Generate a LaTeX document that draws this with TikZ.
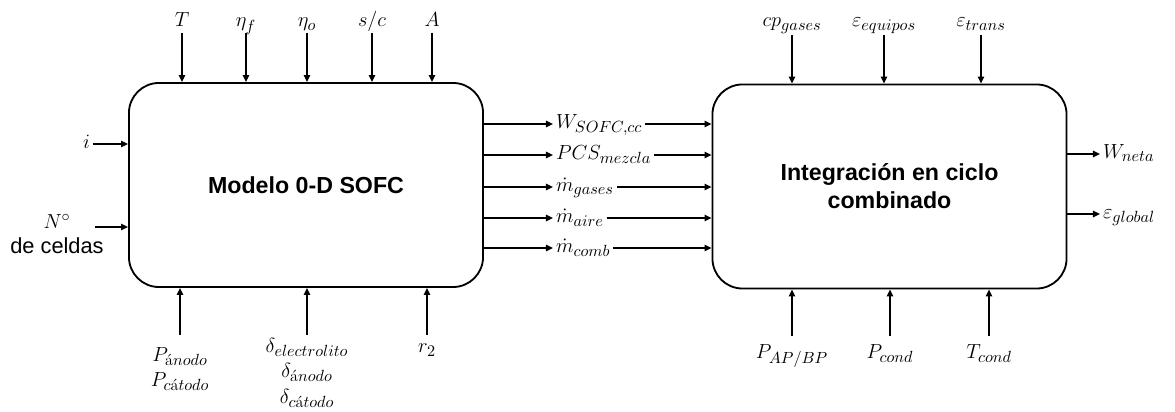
\RequirePackage{fix-cm}
\documentclass[tikz,border=0pt]{standalone}
\usepackage{amsmath}
\usepackage{fontspec}
\setsansfont{Liberation Sans}
\usetikzlibrary{arrows.meta,positioning}
\DeclareMathSizes{14.5}{14.5}{11.5}{9}

\begin{document}
\begin{tikzpicture}[
    x=0.025cm, y=0.025cm,
    block/.style={rectangle, draw, line width=1.3pt, rounded corners=0.75cm, minimum width=8.85cm, minimum height=5.1cm, align=center, font=\sffamily\bfseries\fontsize{16.5}{20}\selectfont},
    lbl/.style={inner sep=0pt, align=center, font=\fontsize{14.5}{18}\selectfont},
    mid/.style={inner sep=2pt, text height=2ex, text depth=0.5ex, font=\fontsize{14.5}{18}\selectfont},
    arrow/.style={-{Triangle[length=5pt,width=4.5pt]}, line width=1.1pt}
]
\useasboundingbox (0,0) rectangle (1175,412);

% Blocks
\node[block] (sofc) at (306,227) {Modelo 0-D SOFC};
\node[block] (integ) at (889.5,225.5) {Integración en ciclo\\combinado};

% SOFC inputs (top)
\coordinate (cT) at (182,379);
\coordinate (cEf) at (246,379);
\coordinate (cEo) at (307,379);
\coordinate (cSc) at (372,379);
\coordinate (cA) at (432,379);
\node[lbl, above=0.15cm of cT, anchor=base] (lT) {$T$};
\node[lbl, above=0.15cm of cEf, anchor=base] (lEf) {$\eta_f$};
\node[lbl, above=0.15cm of cEo, anchor=base] (lEo) {$\eta_o$};
\node[lbl, above=0.15cm of cSc, anchor=base] (lSc) {$s/c$};
\node[lbl, above=0.15cm of cA, anchor=base] (lA) {$A$};
\draw[arrow] (cT) -- (cT |- sofc.north);
\draw[arrow] (cEf) -- (cEf |- sofc.north);
\draw[arrow] (cEo) -- (cEo |- sofc.north);
\draw[arrow] (cSc) -- (cSc |- sofc.north);
\draw[arrow] (cA) -- (cA |- sofc.north);

% SOFC inputs (left)
\node[mid, anchor=east] (li) at (93,268) {$i$};
\coordinate (cN) at (95,185);
\node[lbl] (lN) at (57,178) {$N^{\circ}$\\{\sffamily\fontsize{15.5}{18}\selectfont de celdas}};
\draw[arrow] (li.east) -- (li.east -| sofc.west);
\draw[arrow] (cN) -- (cN -| sofc.west);

% SOFC inputs (bottom)
\coordinate (cPa) at (180,77);
\coordinate (cDe) at (307,77);
\coordinate (cR) at (427,77);
\node[lbl, below=0.3cm of cPa] (lPa) {$P_{\text{á}nodo}$\\$P_{c\text{á}todo}$};
\node[lbl, below=0.075cm of cDe] (lDe) {$\delta_{electrolito}$\\$\delta_{\text{á}nodo}$\\$\delta_{c\text{á}todo}$};
\node[lbl, below=0.45cm of cR, anchor=base] (lR) {$r_2$};
\draw[arrow] (cPa) -- (cPa |- sofc.south);
\draw[arrow] (cDe) -- (cDe |- sofc.south);
\draw[arrow] (cR) -- (cR |- sofc.south);

% Connection between blocks
\node[mid, anchor=west] (oW) at (553,288) {$W_{SOFC,cc}$};
\node[mid, anchor=west] (oPcs) at (553,257) {$PCS_{mezcla}$};
\node[mid, anchor=west] (oMg) at (553,225) {$\dot{m}_{gases}$};
\node[mid, anchor=west] (oMa) at (553,194) {$\dot{m}_{aire}$};
\node[mid, anchor=west] (oMc) at (553,164) {$\dot{m}_{comb}$};
\draw[arrow] (oW.west -| sofc.east) -- (oW.west);
\draw[arrow] (oPcs.west -| sofc.east) -- (oPcs.west);
\draw[arrow] (oMg.west -| sofc.east) -- (oMg.west);
\draw[arrow] (oMa.west -| sofc.east) -- (oMa.west);
\draw[arrow] (oMc.west -| sofc.east) -- (oMc.west);
\draw[arrow] (oW.east) -- (oW.east -| integ.west);
\draw[arrow] (oPcs.east) -- (oPcs.east -| integ.west);
\draw[arrow] (oMg.east) -- (oMg.east -| integ.west);
\draw[arrow] (oMa.east) -- (oMa.east -| integ.west);
\draw[arrow] (oMc.east) -- (oMc.east -| integ.west);

% Combined cycle inputs (top)
\coordinate (cCp) at (792,377);
\coordinate (cEq) at (884,377);
\coordinate (cEt) at (981,377);
\node[lbl, above=0.2cm of cCp, anchor=base] (lCp) {$cp_{gases}$};
\node[lbl, above=0.2cm of cEq, anchor=base] (lEq) {$\varepsilon_{equipos}$};
\node[lbl, above=0.2cm of cEt, anchor=base] (lEt) {$\varepsilon_{trans}$};
\draw[arrow] (cCp) -- (cCp |- integ.north);
\draw[arrow] (cEq) -- (cEq |- integ.north);
\draw[arrow] (cEt) -- (cEt |- integ.north);

% Combined cycle inputs (bottom)
\coordinate (cPab) at (792,76);
\coordinate (cPc) at (890,76);
\coordinate (cTc) at (989,76);
\node[lbl, below=0.55cm of cPab, anchor=base] (lPab) {$P_{AP/BP}$};
\node[lbl, below=0.55cm of cPc, anchor=base] (lPc) {$P_{cond}$};
\node[lbl, below=0.55cm of cTc, anchor=base] (lTc) {$T_{cond}$};
\draw[arrow] (cPab) -- (cPab |- integ.south);
\draw[arrow] (cPc) -- (cPc |- integ.south);
\draw[arrow] (cTc) -- (cTc |- integ.south);

% Outputs
\node[mid, anchor=west] (oWn) at (1100,258) {$W_{neta}$};
\node[mid, anchor=west] (oEg) at (1100,198) {$\varepsilon_{global}$};
\draw[arrow] (oWn.west -| integ.east) -- (oWn.west);
\draw[arrow] (oEg.west -| integ.east) -- (oEg.west);

\end{tikzpicture}
\end{document}
